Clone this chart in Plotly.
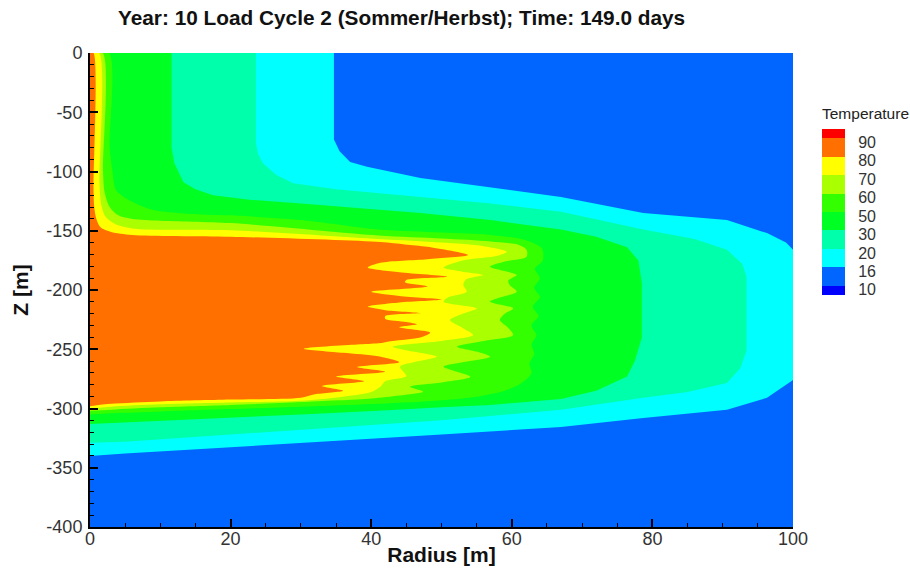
import plotly.graph_objects as go

# ---------------- data ----------------
title_text = "Year: 10 Load Cycle 2 (Sommer/Herbst); Time: 149.0 days"
levels = ["10", "16", "20", "30", "50", "60", "70", "80", "90"]
band_colors = ["#0000FF", "#0066FF", "#00FFFF", "#00FFAA", "#00FF22",
               "#33FF00", "#AAFF00", "#FFFF00", "#FF7000", "#FF0000"]

x_tickvals = [0, 20, 40, 60, 80, 100]
x_ticktext = ["0", "20", "40", "60", "80", "100"]
y_tickvals = [0, -50, -100, -150, -200, -250, -300, -350, -400]
y_ticktext = ["0", "-50", "-100", "-150", "-200", "-250", "-300", "-350", "-400"]

# isotherm boundaries (radius [m], z [m])
iso16_r = [34.7, 34.7, 35.5, 37, 39.4, 47, 55, 60, 67, 78.7, 90.6, 96.3, 99, 100,
           100, 96.3, 90.6, 78.7, 67, 50, 30, 15, 5, 0]
iso16_z = [0, -73, -83, -92, -96, -105.5, -112, -116, -121.5, -135, -141, -152, -160, -166,
           -276, -291, -301, -308, -315.6, -322, -329, -334, -338, -340]

iso20_r = [23.6, 23.6, 23.9, 24.6, 26.5, 28.9, 35, 47, 57, 67, 78.7, 86, 90.6, 92.8, 93.4,
           93.4, 92.5, 90.6, 85, 78.7, 67, 50, 30, 15, 5, 0]
iso20_z = [0, -76, -85, -93, -103, -110, -115, -121.5, -127, -134, -149, -157, -166, -178, -189,
           -251, -266, -278.5, -286, -291, -301, -310, -318, -324, -328, -329]

iso30_r = [11.6, 11.6, 12, 13.3, 15, 17.5, 23, 30, 41, 47, 57, 67, 72, 76.4, 78, 78.5,
           78.5, 77.5, 76.4, 72, 67, 57, 50, 41, 30, 15, 5, 0]
iso30_z = [0, -80, -93, -109, -115, -120, -124, -127, -132, -135, -141, -149, -155, -164, -175, -194,
           -240, -260, -273, -285, -292, -297, -299, -302, -305, -309, -311.5, -313]

iso50_r = [2.7, 2.8, 3.2, 3.7, 5.5, 9, 16.5, 20, 30, 41, 50, 57, 62, 64.3, 64.4,
           63.3, 64, 63.2, 64, 63, 63.8, 62.8, 63.5, 62.8, 63.2, 62.5, 62.8, 61.5,
           59, 55, 50, 41, 30, 20, 10, 3, 0]
iso50_z = [0, -80, -100, -115.6, -124, -132.5, -136.5, -137, -141, -149, -151.5, -153.5, -158, -165, -175,
           -182, -190, -198, -206, -214, -222, -230, -238, -246, -254, -262, -270, -278,
           -285, -290, -293, -296, -298.5, -300.5, -302.5, -304, -305]

iso60_r = [1.8, 1.85, 2.1, 2.8, 4, 6, 10, 20, 41, 50, 57, 61, 62.1, 62.1, 59, 56.9, 59, 60.7,
           59.5, 59.7, 60.7, 58.5, 56.9, 60.2, 59, 58.3, 59.5, 60.2, 56, 52.2, 55, 56.9,
           53, 50.3, 54.1, 50, 45.5, 47.4, 44, 40, 30, 20, 10, 3, 0]
iso60_z = [0, -100, -118, -130, -137, -140, -141.5, -143.5, -154, -156.5, -159, -162, -166, -172, -176, -180.3, -184, -187.3,
           -192, -195.8, -201.4, -206, -209.9, -215.5, -220, -225.3, -232, -238, -243, -247.8, -252, -256.3,
           -261, -264.7, -273.2, -278, -281.6, -285.8, -289, -291.5, -294.5, -297, -299, -301, -302]

iso70_r = [1.3, 1.35, 1.6, 2.2, 3.5, 6, 20, 41, 50, 56, 59.3, 58, 53, 50.3, 53, 55.9, 53.5,
           53.1, 53.6, 51, 50.3, 55, 53, 51.2, 53, 54.5, 50, 43.1, 46, 49.3, 46, 44.1,
           45, 42, 41.3, 40, 36, 30, 20, 10, 3, 0]
iso70_z = [0, -110, -128, -138, -144, -148, -149.5, -157, -160, -163, -167.7, -171, -175, -181, -184.5, -187.3, -191,
           -195.8, -201.4, -206, -209.9, -215.5, -220, -225.3, -232, -238, -243, -247.8, -252, -256.3, -261, -264.7,
           -272.6, -277, -281.6, -286, -290, -293.5, -295, -296.5, -298.5, -300]

iso80_r = [0.5, 0.5, 0.6, 0.9, 1.5, 3, 6, 20, 41.3, 44.8, 48, 53.8, 48, 41.3, 39.5, 44, 50.8,
           45, 44.8, 48, 40, 44, 50, 44, 39.5, 42, 47, 42, 42, 45, 46.5, 44, 48.4, 47, 43,
           41, 38, 30.4, 36, 41, 44, 38, 42, 35, 39, 33, 36, 32, 30, 20, 10, 3, 0]
iso80_z = [0, -115, -130, -140, -147, -151, -153.5, -155, -159.5, -161.5, -163.5, -170.5, -174, -177, -181, -185, -188.8,
           -191.5, -193.5, -197, -201.4, -205, -208, -210.5, -214, -217, -219.5, -222, -224.5, -227, -229, -231.5, -236, -240, -243,
           -245, -246, -249.5, -253, -256, -261, -265, -269, -273, -277, -281, -285, -288, -291, -292.5, -294, -296, -298]

# (r, z, colour, smooth?)
isotherms = [
    (iso16_r, iso16_z, band_colors[2], False),
    (iso20_r, iso20_z, band_colors[3], False),
    (iso30_r, iso30_z, band_colors[4], False),
    (iso50_r, iso50_z, band_colors[5], True),
    (iso60_r, iso60_z, band_colors[6], True),
    (iso70_r, iso70_z, band_colors[7], True),
    (iso80_r, iso80_z, band_colors[8], True),
]

FONT = "Liberation Sans, Arial, sans-serif"

fig = go.Figure()
for r, z, col, smooth in isotherms:
    line = dict(width=0, color=col)
    if smooth:
        line.update(shape="spline", smoothing=0.8)
    fig.add_trace(go.Scatter(
        x=[0] + r, y=[0] + z, mode="lines", fill="toself",
        fillcolor=col, line=line, hoverinfo="skip", showlegend=False))

# colour legend as a small heatmap on its own axes (end boxes are half height)
n = len(band_colors)
cscale = []
for i, c in enumerate(band_colors):
    cscale.append([i / n, c])
    cscale.append([(i + 1) / n, c])
legend_edges = [0] + [i + 0.5 for i in range(n - 1)] + [n - 1]

fig.add_trace(go.Heatmap(
    x=[0], y=legend_edges, z=[[i] for i in range(n)],
    zmin=-0.5, zmax=n - 0.5, colorscale=cscale, showscale=False,
    hoverinfo="skip", xaxis="x2", yaxis="y2"))

PW = 910 - 90 - 10          # paper width in px
PH = 572 - 53 - 45          # paper height in px

fig.update_layout(
    width=910, height=572,
    margin=dict(l=90, r=10, t=53, b=45),
    paper_bgcolor="white", plot_bgcolor=band_colors[1],
    font=dict(family=FONT, color="#222"),
    title=dict(text="<b>" + title_text + "</b>", x=118 / 910, xanchor="left",
               xref="container", y=1 - 18 / 572, yanchor="middle", yref="container",
               font=dict(family=FONT, size=20.8, color="#111")),
    xaxis=dict(domain=[0, 703 / PW], range=[0, 100], tickvals=x_tickvals, ticktext=x_ticktext,
               ticks="inside", ticklen=8, tickwidth=2, tickcolor="black",
               minor=dict(tickmode="linear", tick0=0, dtick=5, ticks="inside",
                          ticklen=4, tickwidth=1, tickcolor="black"),
               showline=True, linewidth=2, linecolor="black", mirror=False,
               showgrid=False, zeroline=False, automargin=False,
               ticklabelstandoff=-6,
               tickfont=dict(family=FONT, size=18, color="#333"),
               title=dict(text="<b>Radius [m]</b>", standoff=0,
                          font=dict(family=FONT, size=21, color="#111"))),
    yaxis=dict(range=[-400, 0], tickvals=y_tickvals, ticktext=y_ticktext,
               ticks="inside", ticklen=8, tickwidth=2, tickcolor="black",
               minor=dict(tickmode="linear", tick0=0, dtick=10, ticks="inside",
                          ticklen=4, tickwidth=1, tickcolor="black"),
               showline=True, linewidth=2, linecolor="black", mirror=False,
               showgrid=False, zeroline=False, automargin=False,
               ticklabelstandoff=2,
               tickfont=dict(family=FONT, size=18, color="#333"),
               title=dict(text="<b>Z [m]</b>", standoff=12,
                          font=dict(family=FONT, size=21, color="#111"))),
    xaxis2=dict(domain=[(822 - 90) / PW, (845 - 90) / PW], range=[-0.5, 0.5],
                anchor="y2", visible=False, fixedrange=True),
    yaxis2=dict(domain=[(527 - 295) / PH, (527 - 129) / PH], range=[0, n - 1],
                anchor="x2", side="right", tickvals=[i + 0.5 - 0.22 for i in range(len(levels))],
                ticktext=levels, ticks="outside", ticklen=9, tickcolor="rgba(0,0,0,0)",
                showline=False, showgrid=False, zeroline=False, fixedrange=True,
                automargin=False,
                tickfont=dict(family=FONT, size=16, color="#333")),
    annotations=[dict(text="Temperature", xref="paper", yref="paper",
                      x=(820 - 90) / PW, y=(527 - 124) / PH, xanchor="left", yanchor="bottom",
                      showarrow=False, font=dict(family=FONT, size=15.5, color="#222"))],
)

fig.write_html("out.html")
